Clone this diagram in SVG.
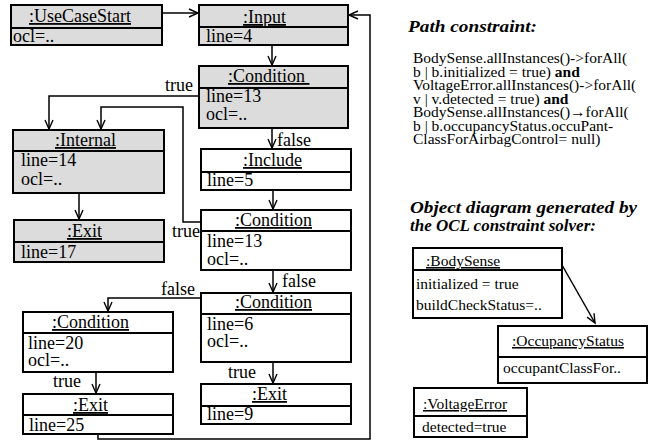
<svg xmlns="http://www.w3.org/2000/svg" width="651" height="441" viewBox="0 0 651 441" font-family="Liberation Serif, serif">
<style>
text{font-family:Liberation Serif,serif;fill:#000}
.t{font-size:18px}
.ttl{font-size:18px;text-decoration:underline;white-space:pre}
.box{stroke:#000;stroke-width:2}
.g{fill:#dcdcdc}
.w{fill:#fff}
.div{stroke:#000;stroke-width:2}
.c{fill:none;stroke:#000;stroke-width:1.5;marker-end:url(#arr)}
.h{font-size:17px;font-weight:bold;font-style:italic}
.b{font-size:15.5px}
.bt{font-size:15.5px;text-decoration:underline}
</style>
<defs>
<marker id="arr" markerUnits="userSpaceOnUse" markerWidth="12" markerHeight="12" refX="9" refY="4" orient="auto" overflow="visible">
<path d="M0,0 L9,4 L0,8" fill="none" stroke="#000" stroke-width="1.4"/>
</marker>
</defs>

<g id="connectors">
<path class="c" d="M162,13 H198"/>
<path class="c" d="M272,45 V65"/>
<path class="c" d="M199,96 H49 V129"/>
<path class="c" d="M272,128 V148"/>
<path class="c" d="M273,190 V209"/>
<path class="c" d="M201,222 H183 V107 H101 V129"/>
<path class="c" d="M273,270 V292"/>
<path class="c" d="M201,298 H108 V311"/>
<path class="c" d="M273,362 V383"/>
<path class="c" d="M96,372 V393"/>
<path class="c" d="M98,434 V439 H370 V15 H349"/>
<path class="c" d="M79,193 V219"/>
<path class="c" d="M562,265 L595,323"/>
<text class="t" x="165" y="91">true</text>
<text class="t" x="277" y="146">false</text>
<text class="t" x="172" y="237">true</text>
<text class="t" x="282" y="287">false</text>
<text class="t" x="161" y="295">false</text>
<text class="t" x="228" y="378">true</text>
<text class="t" x="53" y="387">true</text>
</g>

<g id="usecasestart">
<rect class="box g" x="11" y="5" width="151" height="40"/>
<line class="div" x1="11" y1="28" x2="162" y2="28"/>
<text class="ttl" x="29" y="22">:UseCaseStart</text>
<text class="t" x="13" y="42">ocl=..</text>
</g>

<g id="input">
<rect class="box g" x="199" y="5" width="149" height="40"/>
<line class="div" x1="199" y1="27" x2="348" y2="27"/>
<text class="ttl" x="243" y="23">:Input</text>
<text class="t" x="206" y="42">line=4</text>
</g>

<g id="condition1">
<rect class="box g" x="199" y="66" width="149" height="62"/>
<line class="div" x1="199" y1="88" x2="348" y2="88"/>
<text class="ttl" x="228" y="82">:Condition </text>
<text class="t" x="206" y="102">line=13</text>
<text class="t" x="206" y="120">ocl=..</text>
</g>

<g id="internal">
<rect class="box g" x="13" y="130" width="151" height="63"/>
<line class="div" x1="13" y1="151" x2="164" y2="151"/>
<text class="ttl" x="55" y="146">:Internal</text>
<text class="t" x="21" y="166">line=14</text>
<text class="t" x="21" y="185">ocl=..</text>
</g>

<g id="exit17">
<rect class="box g" x="14" y="220" width="150" height="42"/>
<line class="div" x1="14" y1="242" x2="164" y2="242"/>
<text class="ttl" x="67" y="237">:Exit</text>
<text class="t" x="21" y="258">line=17</text>
</g>

<g id="include">
<rect class="box w" x="201" y="149" width="150" height="41"/>
<line class="div" x1="201" y1="172" x2="351" y2="172"/>
<text class="ttl" x="243" y="166">:Include</text>
<text class="t" x="207" y="186">line=5</text>
</g>

<g id="condition2">
<rect class="box w" x="201" y="210" width="150" height="60"/>
<line class="div" x1="201" y1="231" x2="351" y2="231"/>
<text class="ttl" x="235" y="226">:Condition</text>
<text class="t" x="207" y="247">line=13</text>
<text class="t" x="207" y="265">ocl=..</text>
</g>

<g id="condition3">
<rect class="box w" x="201" y="293" width="150" height="69"/>
<line class="div" x1="201" y1="314" x2="351" y2="314"/>
<text class="ttl" x="235" y="308">:Condition</text>
<text class="t" x="207" y="330">line=6</text>
<text class="t" x="207" y="347">ocl=..</text>
</g>

<g id="exit9">
<rect class="box w" x="201" y="384" width="150" height="40"/>
<line class="div" x1="201" y1="406" x2="351" y2="406"/>
<text class="ttl" x="252" y="400">:Exit</text>
<text class="t" x="207" y="420">line=9</text>
</g>

<g id="condition20">
<rect class="box w" x="23" y="312" width="150" height="60"/>
<line class="div" x1="23" y1="333" x2="173" y2="333"/>
<text class="ttl" x="52" y="328">:Condition</text>
<text class="t" x="28" y="349">line=20</text>
<text class="t" x="28" y="366">ocl=..</text>
</g>

<g id="exit25">
<rect class="box w" x="23" y="394" width="150" height="40"/>
<line class="div" x1="23" y1="415" x2="173" y2="415"/>
<text class="ttl" x="73" y="411">:Exit</text>
<text class="t" x="29" y="431">line=25</text>
</g>

<g id="pathconstraint">
<text class="h" x="408" y="32" textLength="129" lengthAdjust="spacingAndGlyphs">Path constraint:</text>
<text class="b" x="413" y="63">BodySense.allInstances()-&gt;forAll(</text>
<text class="b" x="413" y="76.5">b | b.initialized = true) <tspan font-weight="bold">and</tspan></text>
<text class="b" x="413" y="90">VoltageError.allInstances()-&gt;forAll(</text>
<text class="b" x="413" y="103.5">v | v.detected = true) <tspan font-weight="bold">and</tspan></text>
<text class="b" x="413" y="117">BodySense.allInstances()→forAll(</text>
<text class="b" x="413" y="130.5">b | b.occupancyStatus.occuPant-</text>
<text class="b" x="413" y="144">ClassForAirbagControl= null)</text>
</g>

<g id="objheading">
<text class="h" x="410" y="213" textLength="227" lengthAdjust="spacingAndGlyphs">Object diagram generated by</text>
<text class="h" x="410" y="231">the OCL constraint solver:</text>
</g>

<g id="bodysense">
<rect class="box w" x="413" y="248" width="149" height="70"/>
<line class="div" x1="413" y1="270" x2="562" y2="270"/>
<text class="bt" x="426" y="266">:BodySense</text>
<text class="b" x="416" y="289">initialized = true</text>
<text class="b" x="416" y="310">buildCheckStatus=..</text>
</g>

<g id="occupancystatus">
<rect class="box w" x="498" y="326" width="149" height="57"/>
<line class="div" x1="498" y1="357" x2="647" y2="357"/>
<text class="bt" x="512" y="346">:OccupancyStatus</text>
<text class="b" x="503" y="373">occupantClassFor..</text>
</g>

<g id="voltageerror">
<rect class="box w" x="414" y="388" width="113" height="49"/>
<line class="div" x1="414" y1="416" x2="527" y2="416"/>
<text class="bt" x="423" y="409">:VoltageError</text>
<text class="b" x="422" y="432">detected=true</text>
</g>
</svg>
